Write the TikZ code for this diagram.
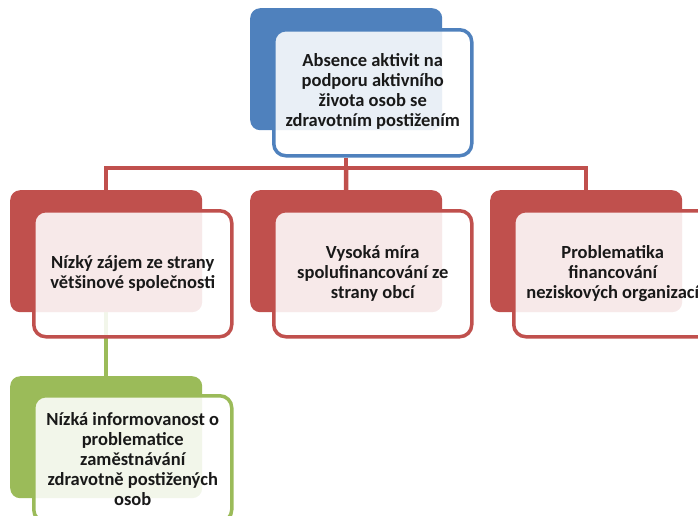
\documentclass[tikz,border=0pt]{standalone}
\usepackage{fontspec}
\setmainfont{Carlito}
\usetikzlibrary{positioning}
\pgfdeclarelayer{background}
\pgfsetlayers{background,main}
\definecolor{cblue}{HTML}{4F81BD}
\definecolor{cred}{HTML}{C0504D}
\definecolor{cgreen}{HTML}{9BBB59}
\begin{document}
\begin{tikzpicture}[x=1pt,y=-1pt,
  backbox/.style={draw=none,fill=#1,rounded corners=10pt,minimum width=192pt,minimum height=122pt,anchor=north west,inner sep=0pt},
  frontbox/.style={draw=#1,line width=3.5pt,fill=white,fill opacity=0.88,text opacity=1,rounded corners=12pt,minimum width=198pt,minimum height=126pt,anchor=north west,inner sep=0pt},
  boxtext/.style={font=\bfseries\fontsize{18.5}{20}\selectfont,align=center,text=black!90,anchor=center},
  conn/.style={draw=#1,line width=4.5pt}]
\useasboundingbox (0,0) rectangle (698,515);
\clip (0,0) rectangle (698,515);
% top
\node[backbox=cblue] (topb) at (250,8) {};
\node[frontbox=cblue] (topf) at (272,28) {};
\node[boxtext] (topt) at ([yshift=1pt]topf.center) {Absence aktivit na\\podporu aktivního\\života osob se\\zdravotním postižením};
% red row
\node[backbox=cred] (leftb) at (10,190) {};
\node[frontbox=cred] (leftf) at (32,209) {};
\node[boxtext] (leftt) at (leftf.center) {Nízký zájem ze strany\\většinové společnosti};
\node[backbox=cred] (midb) at (250,190) {};
\node[frontbox=cred] (midf) at (272,209) {};
\node[boxtext] (midt) at (midf.center) {Vysoká míra\\spolufinancování ze\\strany obcí};
\node[backbox=cred] (rightb) at (490,190) {};
\node[frontbox=cred] (rightf) at (512,209) {};
\node[boxtext] (rightt) at (rightf.center) {Problematika\\financování\\neziskových organizací};
% green
\node[backbox=cgreen] (greenb) at (10,376) {};
\node[frontbox=cgreen] (greenf) at (32,394) {};
\node[boxtext] (greent) at (greenf.center) {Nízká informovanost o\\problematice\\zaměstnávání\\zdravotně postižených\\osob};
\coordinate (hub) at (346,168);
\begin{pgfonlayer}{background}
\draw[conn=cred] (hub |- topf.south) -- (hub);
\draw[conn=cred] (leftb.north) |- (hub) -| (rightb.north);
\draw[conn=cred] (hub) -- (midb.north);
\draw[conn=cgreen] (leftb.center) -- (greenb.center);
\end{pgfonlayer}
\end{tikzpicture}
\end{document}
